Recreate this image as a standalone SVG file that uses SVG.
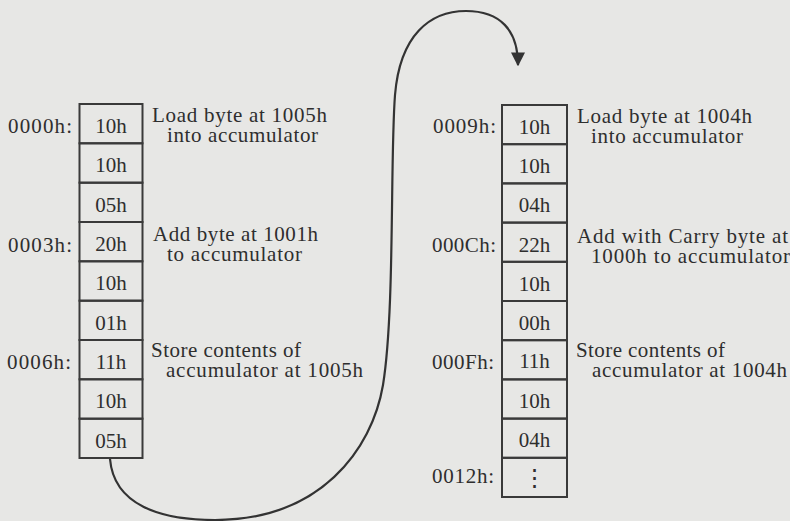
<svg xmlns="http://www.w3.org/2000/svg" width="790" height="521" viewBox="0 0 790 521">
<defs>
<style>
text{font-family:"Liberation Serif","Times New Roman",serif;font-size:21px;fill:#2e2e2e}
.v{text-anchor:middle}
.cell{fill:none;stroke:#3a3a3a;stroke-width:2}
.conn{fill:none;stroke:#333;stroke-width:2.2}
</style>
<marker id="ah" viewBox="0 0 10 10" refX="9" refY="5" markerWidth="14" markerHeight="15" markerUnits="userSpaceOnUse" orient="auto">
<path d="M0,0 L10,5 L0,10 z" fill="#333"/>
</marker>
</defs>
<rect width="790" height="521" fill="#e7e7e5"/>
<g id="left-memory">
<rect class="cell" x="79.5" y="104" width="63" height="39.3"/>
<rect class="cell" x="79.5" y="143.3" width="63" height="39.4"/>
<rect class="cell" x="79.5" y="182.7" width="63" height="39.3"/>
<rect class="cell" x="79.5" y="222" width="63" height="39.3"/>
<rect class="cell" x="79.5" y="261.3" width="63" height="39.4"/>
<rect class="cell" x="79.5" y="300.7" width="63" height="39.3"/>
<rect class="cell" x="79.5" y="340" width="63" height="39.3"/>
<rect class="cell" x="79.5" y="379.3" width="63" height="39.4"/>
<rect class="cell" x="79.5" y="418.7" width="63" height="39.3"/>
<text class="v" x="111" y="133">10h</text>
<text class="v" x="111" y="172">10h</text>
<text class="v" x="111" y="212">05h</text>
<text class="v" x="111" y="251">20h</text>
<text class="v" x="111" y="290">10h</text>
<text class="v" x="111" y="330">01h</text>
<text class="v" x="111" y="369">11h</text>
<text class="v" x="111" y="408">10h</text>
<text class="v" x="111" y="448">05h</text>
<text x="8" y="133" textLength="64">0000h:</text>
<text x="8" y="252" textLength="64">0003h:</text>
<text x="7" y="369" textLength="64">0006h:</text>
<text x="152" y="122" textLength="175">Load byte at 1005h</text>
<text x="167" y="142" textLength="151">into accumulator</text>
<text x="153" y="241" textLength="165">Add byte at 1001h</text>
<text x="167" y="261" textLength="135">to accumulator</text>
<text x="151" y="357" textLength="150">Store contents of</text>
<text x="166" y="377" textLength="197">accumulator at 1005h</text>
</g>
<g id="right-memory">
<rect class="cell" x="502" y="105" width="65" height="39.2"/>
<rect class="cell" x="502" y="144.2" width="65" height="39.2"/>
<rect class="cell" x="502" y="183.4" width="65" height="39.2"/>
<rect class="cell" x="502" y="222.6" width="65" height="39.2"/>
<rect class="cell" x="502" y="261.8" width="65" height="39.2"/>
<rect class="cell" x="502" y="301" width="65" height="39.2"/>
<rect class="cell" x="502" y="340.2" width="65" height="39.2"/>
<rect class="cell" x="502" y="379.4" width="65" height="39.2"/>
<rect class="cell" x="502" y="418.6" width="65" height="39.2"/>
<rect class="cell" x="502" y="457.8" width="65" height="39.2"/>
<text class="v" x="534.5" y="134">10h</text>
<text class="v" x="534.5" y="173">10h</text>
<text class="v" x="534.5" y="212">04h</text>
<text class="v" x="534.5" y="252">22h</text>
<text class="v" x="534.5" y="291">10h</text>
<text class="v" x="534.5" y="330">00h</text>
<text class="v" x="534.5" y="368">11h</text>
<text class="v" x="534.5" y="408">10h</text>
<text class="v" x="534.5" y="447">04h</text>
<text class="v" x="534.5" y="486" style="font-family:'DejaVu Sans',sans-serif;font-size:24px">⋮</text>
<text x="433" y="133" textLength="63">0009h:</text>
<text x="432" y="252" textLength="64">000Ch:</text>
<text x="432" y="369" textLength="62">000Fh:</text>
<text x="432" y="483" textLength="62">0012h:</text>
<text x="577" y="123" textLength="175">Load byte at 1004h</text>
<text x="591" y="143" textLength="152">into accumulator</text>
<text x="577" y="243" textLength="211">Add with Carry byte at</text>
<text x="591" y="263" textLength="199">1000h to accumulator</text>
<text x="576" y="357" textLength="149">Store contents of</text>
<text x="592" y="377" textLength="195">accumulator at 1004h</text>
</g>
<g id="connectors">
<path class="conn" marker-end="url(#ah)" d="M110,459 C114,505 160,520 215,520 C320,520 372,450 383,385 C395,310 390,160 395,95 C400,35 430,11 466,11 C500,11 518,30 518,65"/>
</g>
</svg>
